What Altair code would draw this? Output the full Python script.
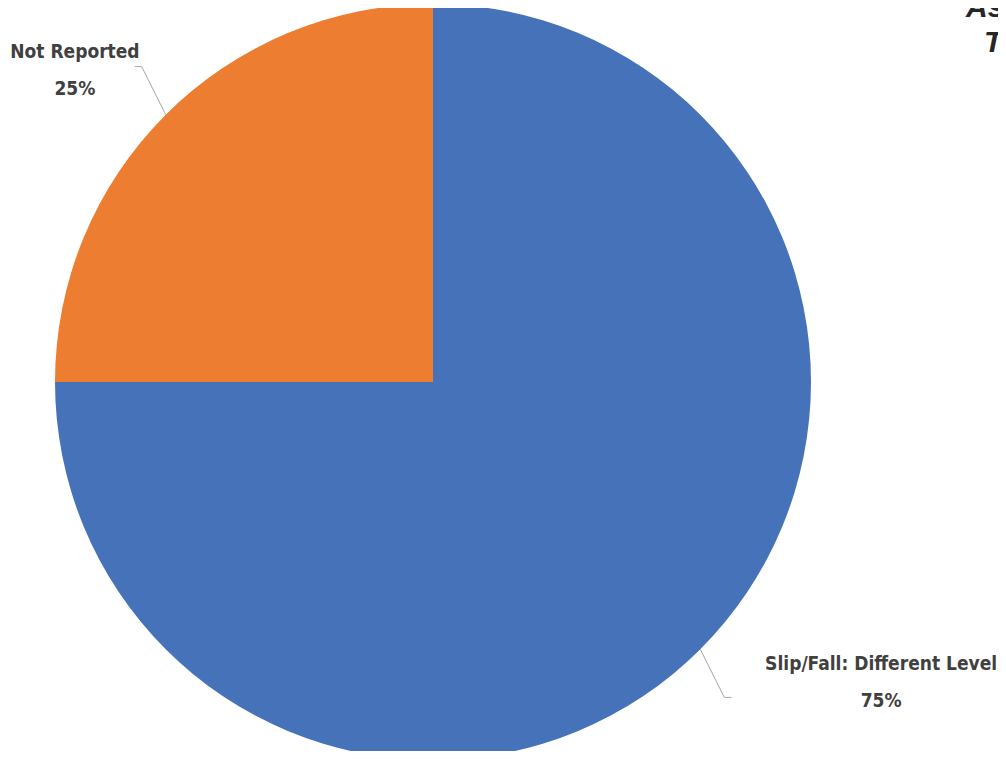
import altair as alt
import pandas as pd

categories = ["Slip/Fall: Different Level", "Not Reported"]
values = [75, 25]
colors = ["#4672B9", "#ED7D31"]
title_lines = ["As", "T"]

df = pd.DataFrame({"category": categories, "value": values, "idx": list(range(len(categories)))})

CX, CY, R = 425, 374, 378
W, H = 990, 743

base = alt.Chart(df).transform_joinaggregate(
    total="sum(value)"
).transform_window(
    cum="sum(value)", sort=[alt.SortField("idx")], frame=[None, 0]
).transform_calculate(
    mid="(datum.cum - datum.value/2) / datum.total * 2 * PI",
    sx=f"{CX} + {R}*sin(datum.mid)",
    sy=f"{CY} - {R}*cos(datum.mid)",
    ex=f"{CX} + {1.09*R}*sin(datum.mid)",
    ey=f"{CY} - {1.18*R}*cos(datum.mid)",
    right="sin(datum.mid) > 0 ? 1 : -1",
).transform_calculate(
    tx="datum.ex + 7*datum.right",
    lx="datum.ex + 7*datum.right + datum.right*(length(datum.category)*6.43 - 17.4)",
    ly="datum.ey + (datum.right > 0 ? -33 : -15)",
    label="datum.category + '\\n' + datum.value + '%'",
)

pie = alt.Chart(df).mark_arc(outerRadius=R, strokeWidth=0).encode(
    theta=alt.Theta("value:Q", stack=True),
    color=alt.Color("category:N", scale=alt.Scale(domain=categories, range=colors), legend=None),
    order=alt.Order("idx:Q"),
    x=alt.value(CX),
    y=alt.value(CY),
)

leader1 = base.mark_rule(color="#A6A6A6", strokeWidth=1).encode(
    x=alt.X("sx:Q", scale=None, axis=None),
    y=alt.Y("sy:Q", scale=None, axis=None),
    x2="ex:Q",
    y2="ey:Q",
)
leader2 = base.mark_rule(color="#A6A6A6", strokeWidth=1).encode(
    x=alt.X("ex:Q", scale=None, axis=None),
    y=alt.Y("ey:Q", scale=None, axis=None),
    x2="tx:Q",
    y2="ey:Q",
)

labels = base.mark_text(
    font="DejaVu Sans Condensed, DejaVu Sans, sans-serif",
    fontWeight="bold",
    fontSize=19,
    lineBreak="\n",
    lineHeight=37,
    align="center",
    baseline="middle",
    color="#404040",
).encode(
    x=alt.X("lx:Q", scale=None, axis=None),
    y=alt.Y("ly:Q", scale=None, axis=None),
    text="label:N",
)

tdf = pd.DataFrame({"t": title_lines, "i": [0, 1]})
title = alt.Chart(tdf).transform_calculate(
    tx="datum.i == 0 ? 958 : 976",
    ty="datum.i == 0 ? 9 : 44",
).mark_text(
    font="Liberation Sans, Arial, sans-serif",
    fontWeight="bold",
    fontStyle="italic",
    fontSize=30,
    align="left",
    baseline="alphabetic",
    color="#262626",
).encode(
    x=alt.X("tx:Q", scale=None, axis=None),
    y=alt.Y("ty:Q", scale=None, axis=None),
    text="t:N",
)

chart = alt.layer(pie, leader1, leader2, labels, title).properties(
    width=W, height=H, autosize=alt.AutoSizeParams(type="none"), padding=0
).configure_view(stroke=None)

chart.save("out.html", embed_options={"renderer": "svg", "actions": False})
